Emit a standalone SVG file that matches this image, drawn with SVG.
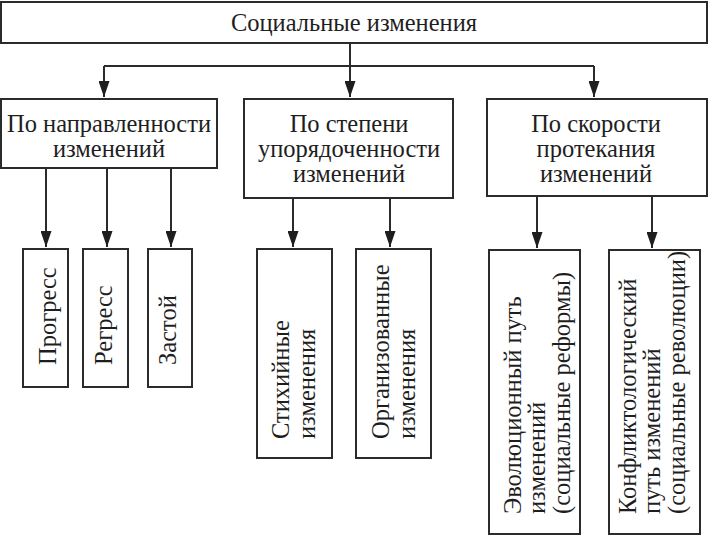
<svg xmlns="http://www.w3.org/2000/svg" width="709" height="536" viewBox="0 0 709 536">
<style>
.box{fill:#fff;stroke:#2b2b2b;stroke-width:2}
.t{font-family:"Liberation Serif","Times New Roman",serif;font-size:24.5px;fill:#1e1e1e}
.c{text-anchor:middle}
.conn{fill:none;stroke:#2b2b2b;stroke-width:2;marker-end:url(#arr)}
.conn0{fill:none;stroke:#2b2b2b;stroke-width:2}
</style>
<defs>
<marker id="arr" markerUnits="userSpaceOnUse" viewBox="0 0 16 11" markerWidth="16" markerHeight="11" refX="16" refY="5.5" orient="auto">
<path d="M0,0 L16,5.5 L0,11 Z" fill="#1e1e1e"/>
</marker>
</defs>
<rect width="709" height="536" fill="#fff"/>
<g id="connectors">
<path class="conn0" d="M104,66 H594"/>
<path class="conn" d="M350,43 V97"/>
<path class="conn" d="M104,66 V97"/>
<path class="conn" d="M594,66 V97"/>
<path class="conn" d="M46,168 V247"/>
<path class="conn" d="M107,168 V247"/>
<path class="conn" d="M171,168 V247"/>
<path class="conn" d="M293,198 V247"/>
<path class="conn" d="M390,198 V247"/>
<path class="conn" d="M537,196 V248"/>
<path class="conn" d="M652,196 V248"/>
</g>
<g id="root">
<rect class="box" x="1" y="2" width="706" height="41"/>
<text class="t c" x="354" y="31">Социальные изменения</text>
</g>
<g id="direction">
<rect class="box" x="1" y="99" width="216" height="69"/>
<text class="t c" x="109" y="132">По направленности</text>
<text class="t c" x="109" y="157">изменений</text>
</g>
<g id="order">
<rect class="box" x="244" y="99" width="209" height="99"/>
<text class="t c" x="349" y="132">По степени</text>
<text class="t c" x="349" y="157">упорядоченности</text>
<text class="t c" x="349" y="182">изменений</text>
</g>
<g id="speed">
<rect class="box" x="487" y="99" width="220" height="97"/>
<text class="t c" x="596" y="132">По скорости</text>
<text class="t c" x="596" y="157">протекания</text>
<text class="t c" x="596" y="182">изменений</text>
</g>
<g id="progress">
<rect class="box" x="23" y="249" width="45" height="138"/>
<text class="t" transform="translate(55.5,365) rotate(-90)">Прогресс</text>
</g>
<g id="regress">
<rect class="box" x="83" y="249" width="45" height="138"/>
<text class="t" transform="translate(111.5,365) rotate(-90)">Регресс</text>
</g>
<g id="stagnation">
<rect class="box" x="148" y="249" width="44" height="138"/>
<text class="t" transform="translate(176,365) rotate(-90)">Застой</text>
</g>
<g id="spontaneous">
<rect class="box" x="257" y="249" width="75" height="209"/>
<text class="t" transform="translate(289,439) rotate(-90)">Стихийные</text>
<text class="t" transform="translate(315,439) rotate(-90)">изменения</text>
</g>
<g id="organized">
<rect class="box" x="356" y="249" width="75" height="209"/>
<text class="t" transform="translate(389,439) rotate(-90)">Организованные</text>
<text class="t" transform="translate(415,439) rotate(-90)">изменения</text>
</g>
<g id="evolution">
<rect class="box" x="489" y="250" width="91" height="284"/>
<text class="t" transform="translate(521,514) rotate(-90)">Эволюционный путь</text>
<text class="t" transform="translate(545,514) rotate(-90)">изменений</text>
<text class="t" transform="translate(570,514) rotate(-90)">(социальные реформы)</text>
</g>
<g id="conflict">
<rect class="box" x="609" y="250" width="91" height="284"/>
<text class="t" transform="translate(636,514) rotate(-90)">Конфликтологический</text>
<text class="t" transform="translate(660,514) rotate(-90)">путь изменений</text>
<text class="t" transform="translate(685,514) rotate(-90)">(социальные революции)</text>
</g>
</svg>
